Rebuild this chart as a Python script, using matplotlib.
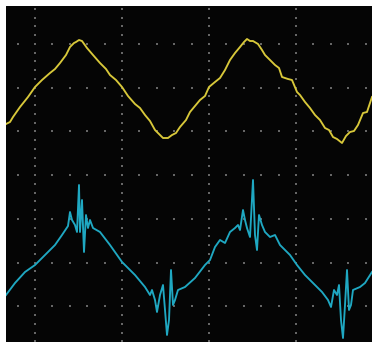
import numpy as np
import matplotlib
matplotlib.use("Agg")
import matplotlib.pyplot as plt

# Channel 1 (yellow) trace: horizontal position, vertical level (screen units)
ch1_t = [6, 10, 13, 20, 28, 35, 42, 50, 55, 60, 66, 70, 74, 76, 79, 82, 87, 93, 100,
         106, 110, 116, 122, 128, 135, 140, 145, 150, 155, 159, 163, 168, 172, 176,
         180, 186, 190, 195, 200, 205, 209, 215, 220, 225, 230, 235, 240, 244, 247,
         250, 253, 258, 262, 265, 270, 275, 279, 282, 288, 292, 297, 300, 305, 310,
         315, 320, 325, 329, 333, 337, 342, 346, 350, 354, 358, 363, 367, 372]
ch1_v = [124, 122, 117, 107, 97, 87, 80, 73, 69, 63, 55, 47, 43, 42, 40, 41, 48, 55,
         63, 69, 75, 80, 87, 96, 104, 108, 115, 121, 130, 134, 138, 138, 135, 133,
         127, 120, 112, 106, 100, 96, 87, 82, 78, 70, 60, 53, 47, 42, 39, 41, 41, 44,
         50, 55, 60, 65, 68, 77, 79, 80, 92, 95, 102, 108, 115, 120, 128, 130, 137,
         139, 143, 136, 132, 131, 125, 113, 112, 97]

# Channel 2 (cyan) trace
ch2_t = [6, 15, 25, 35, 45, 55, 62, 68, 70, 72, 75, 77, 79, 80, 82, 84, 86, 88, 90,
         93, 100, 110, 122, 135, 145, 150, 152, 155, 157, 160, 163, 165, 167, 169,
         171, 173, 175, 178, 185, 195, 205, 210, 215, 220, 225, 230, 235, 238, 240,
         243, 245, 247, 250, 253, 255, 257, 259, 262, 265, 270, 275, 280, 290, 297,
         305, 315, 322, 328, 331, 334, 337, 339, 341, 343, 345, 347, 349, 351, 353,
         360, 365, 372]
ch2_v = [295, 283, 272, 265, 255, 245, 235, 226, 212, 220, 225, 232, 185, 232, 200,
         252, 215, 228, 220, 228, 232, 245, 262, 275, 287, 295, 290, 300, 312, 295,
         285, 310, 335, 320, 270, 305, 300, 290, 287, 278, 265, 260, 247, 240, 243,
         232, 228, 225, 230, 210, 220, 228, 237, 180, 235, 250, 215, 225, 232, 237,
         235, 245, 255, 265, 275, 285, 292, 300, 307, 290, 295, 285, 320, 338, 305,
         270, 310, 305, 290, 287, 283, 272]

X0, X1, Y0, Y1 = 6, 372, 6, 342

fig = plt.figure(figsize=(3.74, 3.45), dpi=100)
fig.patch.set_facecolor("white")
ax = fig.add_axes([X0 / 374, (345 - Y1) / 345, (X1 - X0) / 374, (Y1 - Y0) / 345])
ax.set_facecolor("#050505")
ax.set_xlim(X0, X1)
ax.set_ylim(Y1, Y0)
ax.axis("off")
ax.add_patch(plt.Rectangle((X0, Y0), X1 - X0, Y1 - Y0, color="#050505", zorder=0))

# graticule dots
hdiv, vdiv = 87.0, 43.75
vlines_x = [35 + hdiv * k for k in range(4)]
ydots = np.arange(vdiv / 5, Y1, vdiv / 5)
for xv in vlines_x:
    ax.scatter(np.full_like(ydots, xv), ydots, s=1.3, marker="s", color="#666666",
               linewidths=0, zorder=1)
hrows_y = [vdiv * k for k in range(1, 8)]
xdots = np.arange(35 - hdiv / 5 * 1, X1, hdiv / 5)
for yv in hrows_y:
    ax.scatter(xdots, np.full_like(xdots, yv), s=1.3, marker="s", color="#666666",
               linewidths=0, zorder=1)

ax.plot(ch1_t, ch1_v, color="#d8c83a", lw=1.35, zorder=3, solid_joinstyle="round")
ax.plot(ch2_t, ch2_v, color="#1fa8c2", lw=1.35, zorder=3, solid_joinstyle="round")

fig.savefig("out.png", dpi=100, facecolor="white")
